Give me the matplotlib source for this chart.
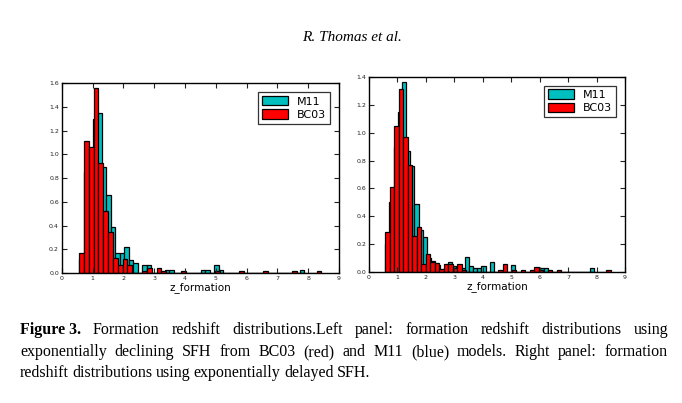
import matplotlib
matplotlib.use("Agg")
import matplotlib.pyplot as plt
import numpy as np

# bin ranges (z_formation) and normalised histogram heights
left_bc03_range = (0.56, 8.43)
left_bc03 = [0.17, 1.115, 1.06, 1.56, 0.93, 0.52, 0.35, 0.124, 0.065, 0.12,
             0.065, 0, 0, 0.02, 0.04, 0, 0.04, 0.02, 0, 0,
             0, 0.02, 0, 0, 0, 0, 0, 0, 0.02, 0,
             0, 0, 0, 0.02, 0, 0, 0, 0, 0.02, 0,
             0, 0, 0, 0, 0.02, 0, 0, 0, 0, 0.02]

left_m11_range = (0.57, 7.87)
left_m11 = [0.12, 0.85, 1.0, 1.30, 1.35, 0.89, 0.66, 0.39, 0.17, 0.17,
            0.22, 0.107, 0.087, 0, 0.067, 0.067, 0, 0, 0, 0.022,
            0.022, 0, 0, 0, 0, 0, 0, 0.022, 0.022, 0,
            0.067, 0.022, 0, 0, 0, 0, 0, 0, 0, 0,
            0, 0, 0, 0, 0, 0, 0, 0, 0, 0.022]

right_bc03_range = (0.57, 8.50)
right_bc03 = [0.286, 0.61, 1.047, 1.31, 0.97, 0.77, 0.262, 0.325, 0.057, 0.129,
              0.076, 0.067, 0.025, 0.057, 0.057, 0.029, 0.057, 0.02, 0, 0,
              0, 0, 0, 0, 0, 0.02, 0.06, 0, 0.02, 0,
              0.02, 0, 0.02, 0.036, 0.02, 0, 0.02, 0, 0.02, 0,
              0, 0, 0, 0, 0, 0, 0, 0, 0, 0.02]

right_m11_range = (0.57, 7.92)
right_m11 = [0.2, 0.5, 0.9, 1.15, 1.36, 0.87, 0.76, 0.49, 0.3, 0.255,
             0.1, 0.08, 0.05, 0.02, 0.03, 0.076, 0.048, 0.03, 0.03, 0.107,
             0.048, 0.03, 0.03, 0.048, 0, 0.076, 0, 0, 0, 0,
             0.05, 0, 0, 0, 0, 0, 0, 0.03, 0.03, 0,
             0, 0, 0, 0, 0, 0, 0, 0, 0, 0.03]

x_ticks = list(range(0, 10))
left_yticks = [0.0, 0.2, 0.4, 0.6, 0.8, 1.0, 1.2, 1.4, 1.6]
right_yticks = [0.0, 0.2, 0.4, 0.6, 0.8, 1.0, 1.2, 1.4]

caption_lines = [
    "Formation redshift distributions.Left panel:  formation redshift distributions using",
    "exponentially declining SFH from BC03 (red) and M11 (blue) models. Right panel: formation",
    "redshift distributions using exponentially delayed SFH.",
]

plt.rcParams['xtick.direction'] = 'in'
plt.rcParams['ytick.direction'] = 'in'
plt.rcParams['xtick.top'] = True
plt.rcParams['ytick.right'] = True

W, H = 682, 403
fig = plt.figure(figsize=(W / 100, H / 100), dpi=100)


def px_axes(x0, y0, x1, y1):
    return fig.add_axes([x0 / W, 1 - y1 / H, (x1 - x0) / W, (y1 - y0) / H])


def draw_hist(ax, m11, m11_range, bc03, bc03_range, yticks):
    e1 = np.linspace(m11_range[0], m11_range[1], len(m11) + 1)
    e2 = np.linspace(bc03_range[0], bc03_range[1], len(bc03) + 1)
    ax.bar(e1[:-1], m11, width=np.diff(e1), align='edge', color='c',
           edgecolor='k', linewidth=0.9, label='M11')
    ax.bar(e2[:-1], bc03, width=np.diff(e2), align='edge', color='r',
           edgecolor='k', linewidth=0.9, label='BC03')
    ax.set_xlim(0, 9)
    ax.set_ylim(yticks[0], yticks[-1])
    ax.set_xticks(x_ticks)
    ax.set_yticks(yticks)
    ax.set_yticklabels(["%.1f" % v for v in yticks])
    ax.tick_params(labelsize=4.5, length=3.5, width=0.8, pad=2, colors='#222222')
    for s in ax.spines.values():
        s.set_linewidth(1.0)
    ax.set_xlabel("z_formation", fontsize=7.5, labelpad=1)
    leg = ax.legend(loc='upper right', fontsize=8, fancybox=False,
                    handlelength=2.4, handleheight=0.9, borderpad=0.35,
                    labelspacing=0.25, handletextpad=0.8, borderaxespad=0.8)
    leg.get_frame().set_edgecolor('k')
    leg.get_frame().set_linewidth(0.9)


ax1 = px_axes(61.7, 83.3, 339, 273)
draw_hist(ax1, left_m11, left_m11_range, left_bc03, left_bc03_range, left_yticks)
ax2 = px_axes(369, 76.7, 625, 272.3)
draw_hist(ax2, right_m11, right_m11_range, right_bc03, right_bc03_range, right_yticks)

# running head
fig.text(352 / W, 1 - 41 / H, "R. Thomas et al.", fontsize=11,
         family='Liberation Serif', style='italic', ha='center', va='baseline')

# justified caption
fig.canvas.draw()
renderer = fig.canvas.get_renderer()
x_left, x_right = 20, 668
baselines = [334, 356, 377]
fsize = 11.5


def word_width(t):
    bb = t.get_window_extent(renderer=renderer)
    return bb.width


for i, line in enumerate(caption_lines):
    y = 1 - baselines[i] / H
    items = []
    if i == 0:
        t = fig.text(0, y, "Figure 3.", fontsize=fsize, family='Liberation Serif',
                     weight='bold', va='baseline')
        items.append(t)
    for w in line.split():
        t = fig.text(0, y, w, fontsize=fsize, family='Liberation Serif', va='baseline')
        items.append(t)
    widths = [word_width(t) for t in items]
    if i < len(caption_lines) - 1:
        gap = (x_right - x_left - sum(widths)) / (len(items) - 1)
    else:
        gap = 3.4
    x = x_left
    for t, wd in zip(items, widths):
        t.set_x(x / W)
        x += wd + gap

fig.savefig("out.png", dpi=100)
